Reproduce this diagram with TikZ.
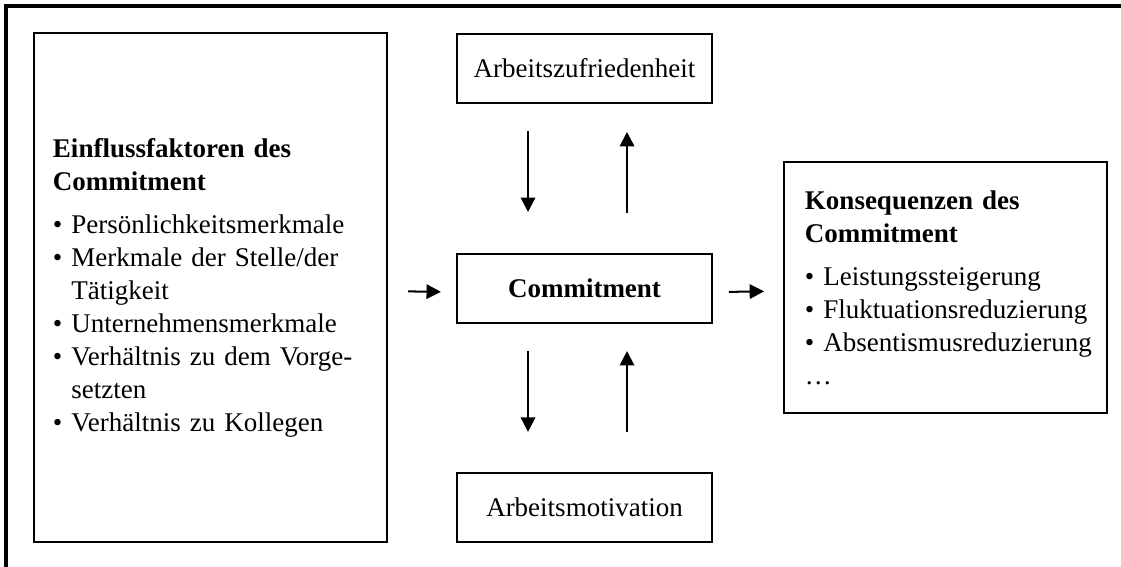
\documentclass[tikz,border=0pt]{standalone}
\usepackage{fontspec}
\setmainfont{Liberation Serif}
\usetikzlibrary{arrows.meta}

\newcommand{\itm}[1]{\mbox{\textbullet~#1}}
\newcommand{\weiter}{\phantom{\textbullet~}}

\begin{document}
\begin{tikzpicture}[x=0.4444pt,y=-0.4444pt,>={Triangle[length=6.4pt,width=6.4pt]},
  box/.style={draw,line width=0.9pt,minimum width=113.3pt,minimum height=30.7pt,inner sep=0pt,font=\fontsize{12pt}{14.67pt}\selectfont},
  listbox/.style={box,align=left,text width=#1},
  arr/.style={->,line width=0.9pt}]
  \useasboundingbox (0,0) rectangle (1121,567);
  \draw[line width=1.4pt] (1121,6) -- (6,6) -- (6,567);

  \node[box] (comm) at (584.5,288.5) {\textbf{Commitment}};
  \node[box] (zuf) at (584.5,68.5) {Arbeitszufriedenheit};
  \node[box] (mot) at (584.5,507.5) {Arbeitsmotivation};

  \node[listbox=140pt,inner xsep=8.44pt,minimum height=226.2pt] (infl) at (210.5,287.5)
    {\textbf{Einflussfaktoren des}\\\textbf{Commitment}\\[4.4pt]
     \itm{Persönlichkeitsmerkmale}\\
     \itm{Merkmale der Stelle/der}\\\weiter Tätigkeit\\
     \itm{Unternehmensmerkmale}\\
     \itm{Verhältnis zu dem Vorge-}\\\weiter setzten\\
     \itm{Verhältnis zu Kollegen}};
  \node[listbox=124.9pt,inner xsep=9.33pt,minimum height=111.5pt] (kons) at (945.5,287.5)
    {\textbf{Konsequenzen des}\\\textbf{Commitment}\\[4.4pt]
     \itm{Leistungssteigerung}\\
     \itm{Fluktuationsreduzierung}\\
     \itm{Absentismusreduzierung}\\
     …};

  % horizontal arrows
  \draw[arr,shorten <=8.9pt,shorten >=6.7pt] ([yshift=-1.6pt]infl.east) -- ([yshift=-1.6pt]comm.west);
  \draw[arr,shorten <=7.1pt,shorten >=8.4pt] ([yshift=-1.6pt]comm.east) -- ([yshift=-1.6pt]kons.west);

  % vertical arrows
  \draw[arr,shorten <=12pt,shorten >=18.2pt] ([xshift=-25.1pt]zuf.south) -- ([xshift=-25.1pt]comm.north);
  \draw[arr,shorten <=17.8pt,shorten >=12.4pt] ([xshift=18.9pt]comm.north) -- ([xshift=18.9pt]zuf.south);
  \draw[arr,shorten <=12pt,shorten >=17.8pt] ([xshift=-25.1pt]comm.south) -- ([xshift=-25.1pt]mot.north);
  \draw[arr,shorten <=17.8pt,shorten >=12pt] ([xshift=18.9pt]mot.north) -- ([xshift=18.9pt]comm.south);
\end{tikzpicture}
\end{document}
